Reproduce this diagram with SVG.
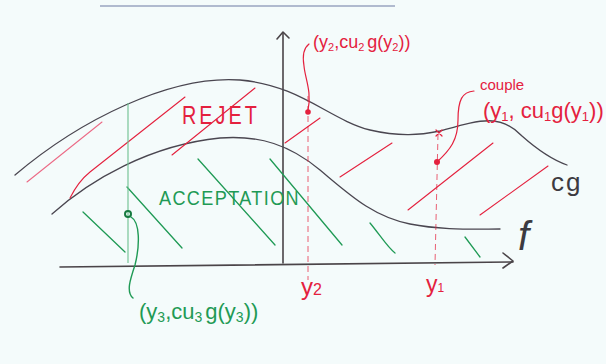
<svg xmlns="http://www.w3.org/2000/svg" width="606" height="364" viewBox="0 0 606 364">
<defs>
<style>
.bg{fill:#f4fbfb}
.ax{stroke:#4a4448;stroke-width:1.6;fill:none;stroke-linecap:round;stroke-linejoin:round}
.cv{stroke:#4a4650;stroke-width:1.3;fill:none;stroke-linecap:round}
.hr{stroke:#e4213e;stroke-width:1.1;fill:none;stroke-linecap:round}
.hp{stroke:#ec6a86;stroke-width:1.1;fill:none;stroke-linecap:round}
.hg{stroke:#1f9a55;stroke-width:1.3;fill:none;stroke-linecap:round}
.dr{stroke:#e4213e;stroke-width:0.9;fill:none;stroke-dasharray:6 4;opacity:0.8}
.dg{stroke:#6cc08f;stroke-width:1.1;fill:none}
.lr{stroke:#e4213e;stroke-width:1.2;fill:none;stroke-linecap:round}
.lg{stroke:#1f9a55;stroke-width:1.4;fill:none;stroke-linecap:round}
.tr{fill:#e4213e;font-family:"Liberation Sans",Arial,sans-serif}
.tg{fill:#1f9a55;font-family:"Liberation Sans",Arial,sans-serif}
.tk{fill:#3c3a40;font-family:"Liberation Sans",Arial,sans-serif}
</style>
</defs>
<rect class="bg" x="0" y="0" width="606" height="364"/>
<line x1="100" y1="6" x2="395" y2="6" stroke="#9aa4c0" stroke-width="1.6"/>

<g id="axes">
<path class="ax" d="M60,267 L513,262"/>
<path class="ax" d="M503,253 L513,261 L503,268"/>
<path class="ax" d="M283,263 L283,33"/>
<path class="ax" d="M277,39 L283,32 L289,38"/>
</g>

<g id="curve-cg">
<path class="cv" d="M15,175 C80,120 170,75 240,80 C300,85 330,120 370,130 C400,137 420,135 440,131 C480,120 500,113 522,136 C540,152 553,160 567,165"/>
<text class="tk" x="551" y="191" font-size="26">c<tspan dx="2">g</tspan></text>
</g>
<g id="curve-f">
<path class="cv" d="M52,214 C90,180 150,145 220,138 C260,135 290,145 320,170 C350,195 372,216 410,224 C440,230 470,229 500,229"/>
<text class="tk" x="518" y="250" font-size="40" font-style="italic" font-family="Liberation Serif,serif">f</text>
</g>

<g id="hatch-rejet">
<path class="hp" d="M27,182 L102,122"/>
<path class="hr" d="M70,198 C75,188 80,180 90,172 L185,97"/>
<path class="hr" d="M172,155 L255,88"/>
<path class="hr" d="M285,143 L320,118"/>
<path class="hr" d="M340,177 L392,143"/>
<path class="hr" d="M408,210 L493,143"/>
<path class="hr" d="M480,215 L548,166"/>
</g>

<g id="hatch-acceptation">
<path class="hg" d="M83,212 L125,252"/>
<path class="hg" d="M127,187 L182,248"/>
<path class="hg" d="M198,159 L275,245"/>
<path class="hg" d="M270,159 L342,245"/>
<path class="hg" d="M370,223 C380,235 388,248 395,253"/>
<path class="hg" d="M465,237 L480,257"/>
</g>

<g id="region-rejet">
<text class="tr" x="182" y="124" font-size="26" letter-spacing="4" textLength="78" lengthAdjust="spacingAndGlyphs">REJET</text>
</g>
<g id="region-acceptation">
<text class="tg" x="159" y="205" font-size="21" letter-spacing="1.6" textLength="141" lengthAdjust="spacingAndGlyphs">ACCEPTATION</text>
</g>

<g id="guides">
<line class="dg" x1="128" y1="103" x2="128" y2="263"/>
<line class="dr" x1="308" y1="96" x2="308" y2="280"/>
<line class="dr" x1="438" y1="134" x2="435" y2="265"/>
</g>

<g id="point-y2">
<circle cx="308" cy="112" r="2.8" fill="#e4213e"/>
<text class="tr" x="313" y="48" font-size="18">(y<tspan font-size="11" dy="3">2</tspan><tspan dy="-3">,cu</tspan><tspan font-size="11" dy="3">2</tspan><tspan dy="-3" dx="3">g(y</tspan><tspan font-size="11" dy="3">2</tspan><tspan dy="-3">))</tspan></text>
</g>
<g id="point-y1">
<circle cx="437" cy="162" r="3" fill="#e4213e"/>
<path class="lr" d="M436,130 L442,136 M442,130 L436,136"/>
<text class="tr" x="480" y="90" font-size="15">couple</text>
<text class="tr" x="483" y="118" font-size="22">(y<tspan font-size="13" dy="3">1</tspan><tspan dy="-3">, cu</tspan><tspan font-size="13" dy="3">1</tspan><tspan dy="-3">g(y</tspan><tspan font-size="13" dy="3">1</tspan><tspan dy="-3">))</tspan></text>
</g>
<g id="point-y3">
<circle cx="128" cy="214" r="3" fill="none" stroke="#167a40" stroke-width="2"/>
<text class="tg" x="139" y="319" font-size="22">(y<tspan font-size="14" dy="3">3</tspan><tspan dy="-3">,cu</tspan><tspan font-size="14" dy="3">3</tspan><tspan dy="-3" dx="3">g(y</tspan><tspan font-size="14" dy="3">3</tspan><tspan dy="-3">))</tspan></text>
</g>

<g id="axis-labels">
<text class="tr" x="301" y="295" font-size="24">y<tspan font-size="16">2</tspan></text>
<text class="tr" x="426" y="292" font-size="23">y<tspan font-size="12">1</tspan></text>
</g>

<g id="connectors">
<path class="lr" d="M308,110 C312,92 305,78 304,66 C302,54 305,47 309,44"/>
<path class="lr" d="M437,162 C450,150 458,140 458,120 C458,100 462,92 474,91"/>
<path class="lg" d="M131,217 C140,222 140,245 135,265 C130,280 126,292 133,298"/>
</g>
</svg>
